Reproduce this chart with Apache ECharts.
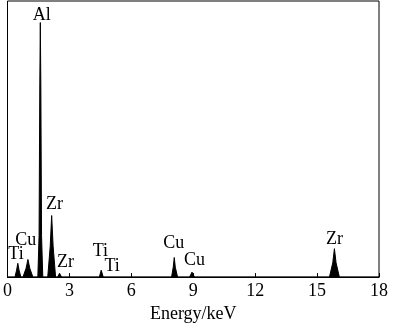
<!DOCTYPE html>
<html>
<head>
<meta charset="utf-8">
<script src="https://cdn.jsdelivr.net/npm/echarts@6/dist/echarts.min.js"></script>
<style>html,body{margin:0;padding:0;background:#fff;}#c{width:400px;height:328px;}</style>
</head>
<body>
<div id="c"></div>
<script>
// Spectrum outline points (energy in keV, counts in arbitrary units)
const energy = [0, 0.36, 0.44, 0.50, 0.56, 0.65, 0.75, 0.90, 0.99, 1.08, 1.23, 1.47, 1.53, 1.565, 1.59, 1.615, 1.65, 1.71, 1.95, 2.07, 2.14, 2.21, 2.33, 2.43, 2.52, 2.62, 4.45, 4.54, 4.64, 4.86, 4.93, 5.00, 7.95, 8.03, 8.08, 8.13, 8.24, 8.82, 8.94, 9.06, 15.60, 15.76, 15.84, 15.92, 16.08, 18];
const counts = [0, 0, 25, 50, 25, 0, 0, 32, 64, 32, 0, 0, 150, 700, 922, 700, 150, 0, 0, 112, 223, 112, 0, 0, 14, 0, 0, 25, 0, 0, 7, 0, 0, 36, 71, 36, 0, 0, 18, 0, 0, 52, 103, 52, 0, 0];

// Peak labels
const labelNames = ["Al", "Ti", "Cu", "Zr", "Zr", "Ti", "Ti", "Cu", "Cu", "Zr"];
const labelE = [1.66, 0.41, 0.89, 2.28, 2.81, 4.50, 5.07, 8.05, 9.06, 15.84];
const labelY = [947, 82, 135, 262, 53, 92, 39, 121, 60, 138];

// Axis
const xTicks = [0, 3, 6, 9, 12, 15, 18];
const xName = "Energy/keV";

const font = "Liberation Serif, Times New Roman, serif";
const chart = echarts.init(document.getElementById('c'), null, {renderer: 'canvas'});
chart.setOption({
  animation: false,
  backgroundColor: '#fff',
  grid: {left: 4, right: 21, top: 1, bottom: 45, show: true, borderColor: '#000', borderWidth: 1, containLabel: false},
  xAxis: {
    type: 'value', min: xTicks[0], max: xTicks[xTicks.length - 1], interval: 3,
    name: xName, nameLocation: 'middle', nameGap: 23,
    nameTextStyle: {fontFamily: font, fontSize: 18, color: '#000'},
    axisLine: {show: true, lineStyle: {color: '#000', width: 1}},
    axisTick: {show: true, inside: true, length: 4, lineStyle: {color: '#000'}},
    axisLabel: {fontFamily: font, fontSize: 18, color: '#000', margin: 5},
    splitLine: {show: false}
  },
  yAxis: {
    type: 'value', min: 0, max: 1000,
    axisLine: {show: false}, axisTick: {show: false}, axisLabel: {show: false}, splitLine: {show: false}
  },
  series: [
    {
      type: 'line', symbol: 'none',
      data: energy.map((e, i) => [e, counts[i]]),
      lineStyle: {color: '#000', width: 1},
      areaStyle: {color: '#000', opacity: 1}
    },
    {
      type: 'scatter', symbolSize: 0,
      itemStyle: {opacity: 1, color: '#000'},
      data: labelE.map((e, i) => ({value: [e, labelY[i]], name: labelNames[i]})),
      label: {show: true, position: 'inside', formatter: p => p.name, fontFamily: font, fontSize: 18, color: '#000', opacity: 1}
    }
  ]
});
</script>
</body>
</html>
